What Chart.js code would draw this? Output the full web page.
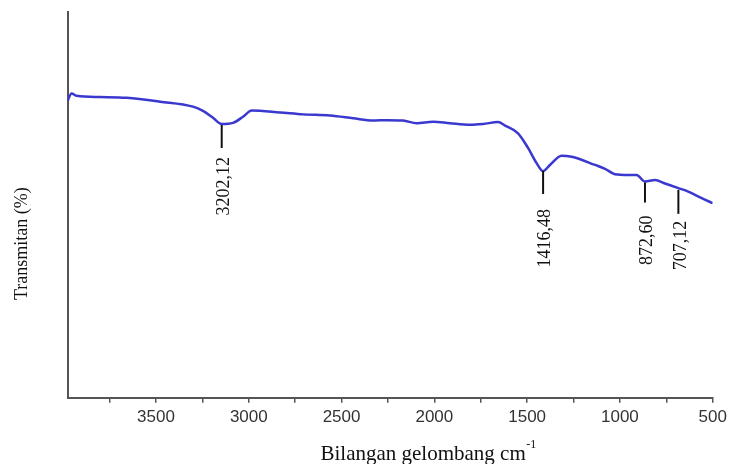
<!DOCTYPE html>
<html>
<head>
<meta charset="utf-8">
<script src="https://cdn.jsdelivr.net/npm/chart.js@4.4.1/dist/chart.umd.min.js"></script>
<style>
  html, body { margin: 0; padding: 0; background: #fff; }
</style>
</head>
<body>
<canvas id="ftirChart" width="731" height="464"></canvas>
<script>
// FTIR spectrum (x = wave number, y = transmittance)
const waveNumber = [
  3977, 3955, 3927, 3802, 3658, 3478, 3301, 3247, 3193, 3146,
  3085, 3031, 2984, 2832, 2706, 2562, 2438, 2331, 2257, 2169,
  2095, 2007, 1916, 1808, 1738, 1657, 1619, 1549, 1495, 1448,
  1414, 1377, 1314, 1260, 1134, 1080, 1027, 955, 910, 865,
  811, 757, 685, 632, 559, 500,
];
const transmittance = [
  76.9, 78.8, 78.2, 77.9, 77.7, 76.7, 75.4, 74.3, 72.5, 70.9,
  71.2, 72.8, 74.4, 73.9, 73.4, 73.1, 72.4, 71.8, 71.9, 71.8,
  71.1, 71.5, 71.1, 70.7, 70.9, 71.4, 70.5, 68.5, 64.7, 60.7,
  58.7, 60.3, 62.7, 62.4, 60.3, 59.3, 57.9, 57.7, 57.7, 56.0,
  56.4, 55.5, 54.3, 53.4, 51.7, 50.4,
];
const xTickLabels = [3500, 3000, 2500, 2000, 1500, 1000, 500];
const xMinorTicks = [3750, 3250, 2750, 2250, 1750, 1250, 750];

// peak markers: where the stem sits on the curve and the printed label
const peakLabels = ["3202,12", "1416,48", "872,60", "707,12"];
const peakAt = [3146, 1414, 865, 685];
const peakValue = [70.9, 59.0, 56.0, 54.1];

const xTitle = "Bilangan gelombang cm";
const xTitleSup = "-1";
const yTitle = "Transmitan (%)";

const serif = '"Liberation Serif", "Times New Roman", serif';

const peakMarks = {
  id: "peakMarks",
  afterDatasetsDraw(chart) {
    const { ctx, scales: { x, y } } = chart;
    const stemLength = [23, 23, 20, 24];
    const labelGap = [9, 15, 13, 7];
    ctx.save();
    ctx.strokeStyle = "#111";
    ctx.fillStyle = "#111";
    ctx.lineWidth = 2;
    ctx.font = "18px " + serif;
    peakAt.forEach((wn, i) => {
      const px = x.getPixelForValue(wn);
      const top = y.getPixelForValue(peakValue[i]) + 1;
      const bottom = top + stemLength[i];
      ctx.beginPath();
      ctx.moveTo(px, top);
      ctx.lineTo(px, bottom);
      ctx.stroke();
      ctx.save();
      ctx.translate(px + 2.5, bottom + labelGap[i]);
      ctx.rotate(-Math.PI / 2);
      ctx.textAlign = "right";
      ctx.textBaseline = "middle";
      ctx.fillText(peakLabels[i], 0, 0);
      ctx.restore();
    });
    ctx.restore();
  },
};

// axis titles sit off-centre in the original, so they are drawn here
const axisTitles = {
  id: "axisTitles",
  afterDraw(chart) {
    const { ctx, chartArea } = chart;
    ctx.save();
    ctx.fillStyle = "#111";
    ctx.textBaseline = "alphabetic";

    ctx.font = "21px " + serif;
    const mainW = ctx.measureText(xTitle).width;
    ctx.font = "12px " + serif;
    const supW = ctx.measureText(xTitleSup).width;
    const cx = (chartArea.left + chartArea.right) / 2 + 38;
    const startX = cx - (mainW + supW) / 2;
    const baseY = chart.height - 4;
    ctx.font = "21px " + serif;
    ctx.textAlign = "left";
    ctx.fillText(xTitle, startX, baseY);
    ctx.font = "12px " + serif;
    ctx.fillText(xTitleSup, startX + mainW + 0.5, baseY - 12);

    ctx.font = "18px " + serif;
    ctx.translate(26.5, (chartArea.top + chartArea.bottom) / 2 + 39);
    ctx.rotate(-Math.PI / 2);
    ctx.textAlign = "center";
    ctx.fillText(yTitle, 0, 0);
    ctx.restore();
  },
};

const ctx = document.getElementById("ftirChart").getContext("2d");
const ftirChart = new Chart(ctx, {
  type: "line",
  data: {
    datasets: [
      {
        label: "FTIR",
        data: waveNumber.map((wn, i) => ({ x: wn, y: transmittance[i] })),
        borderColor: "#3a38cf",
        borderWidth: 2.5,
        pointRadius: 0,
        tension: 0.4,
        cubicInterpolationMode: "monotone",
        fill: false,
      },
    ],
  },
  options: {
    responsive: false,
    animation: false,
    layout: {
      padding: { top: 11.7, right: 18.3, left: 0, bottom: 0 },
    },
    plugins: {
      legend: { display: false },
      tooltip: { enabled: false },
    },
    scales: {
      x: {
        type: "linear",
        reverse: true,
        min: 500,
        max: 3977,
        afterBuildTicks(scale) {
          scale.ticks = xTickLabels
            .concat(xMinorTicks)
            .sort((a, b) => b - a)
            .map((v) => ({ value: v }));
        },
        afterFit(scale) {
          scale.height = 66.3;
        },
        grid: {
          display: true,
          drawOnChartArea: false,
          drawTicks: true,
          tickLength: 5,
          color: "#555",
          lineWidth: 1.5,
        },
        border: { display: true, color: "#555", width: 2 },
        ticks: {
          autoSkip: false,
          maxRotation: 0,
          padding: 4,
          color: "#333",
          font: { family: '"Liberation Sans", Arial, sans-serif', size: 17 },
          callback: (value) => (xTickLabels.includes(value) ? String(value) : ""),
        },
      },
      y: {
        min: 0,
        max: 100,
        afterFit(scale) {
          scale.width = 67.5;
        },
        grid: { display: false },
        border: { display: true, color: "#555", width: 2 },
        ticks: { display: false },
      },
    },
  },
  plugins: [peakMarks, axisTitles],
});
</script>
</body>
</html>
